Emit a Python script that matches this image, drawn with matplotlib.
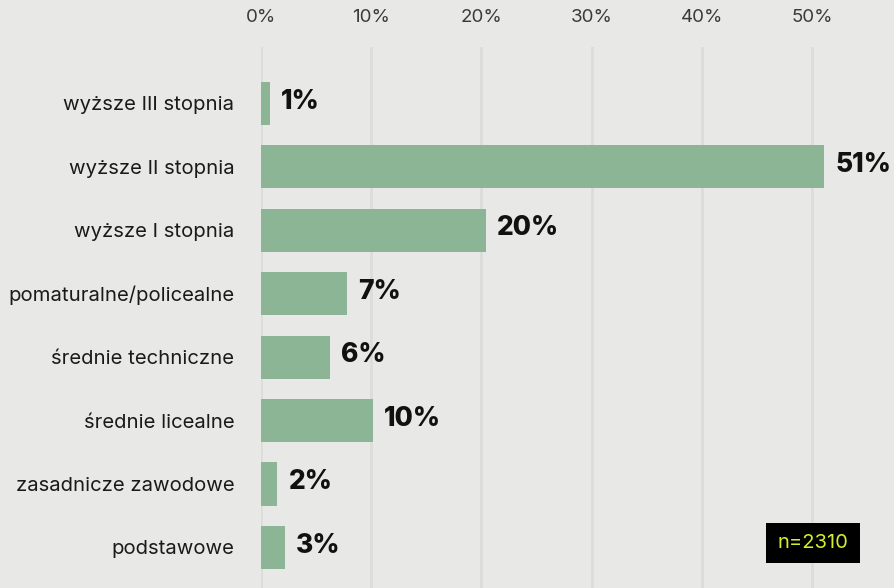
import numpy as np
import matplotlib.pyplot as plt

# dane
kategorie = ['wyższe III stopnia', 'wyższe II stopnia', 'wyższe I stopnia',
             'pomaturalne/policealne', 'średnie techniczne', 'średnie licealne',
             'zasadnicze zawodowe', 'podstawowe']
wartosci = [0.85, 51.1, 20.4, 7.8, 6.3, 10.2, 1.5, 2.2]
etykiety = ['1%', '51%', '20%', '7%', '6%', '10%', '2%', '3%']
ticki = [0, 10, 20, 30, 40, 50]
n_txt = 'n=2310'

BG = '#e8e9e6'
BAR = '#8bb594'
GRID = '#dcdddb'

plt.rcParams['font.family'] = ['Inter', 'DejaVu Sans']

fig = plt.figure(figsize=(8.94, 5.88), dpi=100, facecolor=BG)
ax = fig.add_axes([260.8 / 894, 0, 1 - 260.8 / 894, 1 - 47 / 588])
ax.set_facecolor(BG)

y = np.arange(len(kategorie))
ax.barh(y, wartosci, height=0.68, color=BAR, zorder=2)

for yi, v, lab in zip(y, wartosci, etykiety):
    ax.text(v + 1.0, yi - 0.03, lab, va='center', ha='left', fontsize=19,
            fontweight='heavy', color='#111111', zorder=3)

ax.set_xlim(0, (894 - 260.8) / 11.03)
ax.set_ylim(7.64, -0.89)
ax.set_xticks(ticki)
ax.set_xticklabels([f'{t}%' for t in ticki], fontsize=13.5, color='#3a3a3a')
ax.xaxis.tick_top()
ax.tick_params(axis='x', length=0, pad=15)
ax.set_yticks(y)
ax.set_yticklabels(kategorie, fontsize=14.6, color='#1a1a1a')
ax.tick_params(axis='y', length=0, pad=19)
ax.grid(axis='x', color=GRID, linewidth=2, zorder=0)
for s in ax.spines.values():
    s.set_visible(False)

fig.text(813 / 894, 1 - 543 / 588, n_txt, ha='center', va='center',
         fontsize=14.5, color='#d4ee2c',
         bbox=dict(boxstyle='square,pad=0.55', facecolor='black', edgecolor='none'))

fig.savefig('out.png', dpi=100, facecolor=BG)
